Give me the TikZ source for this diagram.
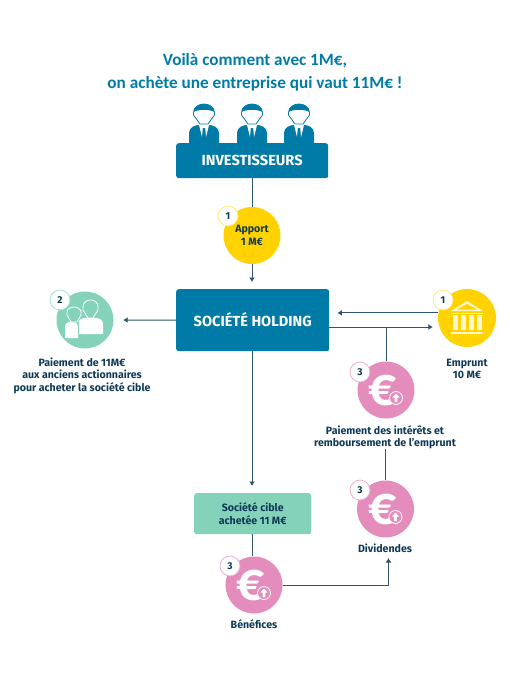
\documentclass[tikz,border=0pt]{standalone}
\usepackage{fontspec}
\setmainfont{Fira Sans}
\newfontfamily\titlefont{Carlito}
\usepackage{tikz}
\usetikzlibrary{
  calc,
  positioning,
  arrows.meta
}
\definecolor{petrol}{HTML}{007BA7}
\definecolor{ink}{HTML}{0F3A57}
\definecolor{wire}{HTML}{2F566E}
\definecolor{mint}{HTML}{84D2BA}
\definecolor{rose}{HTML}{E48CBC}
\definecolor{sun}{HTML}{FFD200}

\begin{document}
\begin{tikzpicture}[> ={Latex[length=4.5pt,width=6pt]},x=1pt,y=-1pt]
  \tikzset{
    bluebox/.style={
      fill=petrol,rounded corners=2.5pt,text=white,font=\bfseries\fontsize{14.6}{16}\selectfont,
      inner sep=0pt,anchor=north west
    },
    disc/.style={
      circle,minimum size=57pt,inner sep=0pt,align=center
    },
    badge/.style={
      circle,fill=white,draw=#1,line width=.8pt,minimum size=20pt,inner sep=0pt,
      text=ink,font=\bfseries\fontsize{10}{10}\selectfont
    },
    caption/.style={
      text=ink,align=center,inner sep=0pt,font=\bfseries\fontsize{10.6}{12.5}\selectfont
    },
    wireline/.style={
      draw=wire,line width=1pt
    },
    eurodisc/.style={
      disc,fill=rose,text=white,font=\titlefont\bfseries\fontsize{56}{56}\selectfont
    },
    pics/investor/.style={
      code={
        \fill[petrol] (-15,39) -- (-15,29) .. controls (-15,24) and (-10,21) .. (-5,21)
          -- (5,21) .. controls (10,21) and (15,24) .. (15,29) -- (15,39) -- cycle;
        \fill[white] (-5,21) -- (-2,33) -- (-1,25) -- (1,25) -- (2,33) -- (5,21) -- cycle;
        \fill[petrol] (-1.2,24) -- (1.2,24) -- (1.6,34) -- (-1.6,34) -- cycle;
        \draw[petrol,fill=white,line width=.8pt] (-10.5,9) -- (-10.5,11) -- (-4,20) -- (4,20) -- (10.5,11) -- (10.5,9)
          .. controls (10.5,3) and (5,0) .. (0,0) .. controls (-5,0) and (-10.5,3) .. (-10.5,9) -- cycle;
        \fill[petrol] (-10.5,8) .. controls (-10.5,3) and (-5,0) .. (0,0) .. controls (5,0) and (10.5,3) .. (10.5,8)
          .. controls (5,5) and (-5,5) .. (-10.5,8) -- cycle;
      }
    },
    pics/risemark/.style={
      code={
        \draw[white,fill=rose,line width=.8pt] (0,0) circle (6.5);
        \fill[white] (0,-4.5) -- (3.5,-.5) -- (1.3,-.5) -- (1.3,4) -- (-1.3,4) -- (-1.3,-.5) -- (-3.5,-.5) -- cycle;
      }
    },
    pics/bank/.style={
      code={
        \fill[white!80!sun] (0,-17) -- (16,-7) -- (-16,-7) -- cycle;
        \fill[sun] (0,-14) -- (10,-8.5) -- (-10,-8.5) -- cycle;
        \fill[white!80!sun] (-16,-5.5) rectangle (16,-4);
        \foreach \x in {-13,-5,3,11} {
          \fill[white!80!sun] (\x-1,-3) rectangle (\x+4,12);
        }
        \fill[white!80!sun] (-16,14) rectangle (16,16);
      }
    },
    pics/person/.style={
      code={
        \fill[white] (-#1,16) -- (-#1,6) .. controls (-#1,2) and (-#1*.7,0) .. (-#1*.4,0)
          -- (#1*.4,0) .. controls (#1*.7,0) and (#1,2) .. (#1,6) -- (#1,16) -- cycle;
      }
    },
  }
  \useasboundingbox (0,0) rectangle (510,680);

  % title
  \node[text=petrol,align=center,inner sep=0pt,font=\titlefont\bfseries\fontsize{17.2}{22.5}\selectfont] (title) at (255,72.5)
    {Voilà comment avec 1M€,\\on achète une entreprise qui vaut 11M€ !};

  % boxes
  \node[bluebox,minimum width=152pt,minimum height=35pt] (investisseurs) at (176,143) {INVESTISSEURS};
  \node[bluebox,minimum width=153pt,minimum height=62pt] (holding) at (176,289) {\raisebox{1.5pt}{SOCIÉTÉ HOLDING}};
  \node[fill=mint,rounded corners=2.5pt,text=ink,align=center,inner sep=0pt,anchor=north west,
    minimum width=117pt,minimum height=41pt,font=\bfseries\fontsize{10.6}{12.5}\selectfont] (cible) at (194,493)
    {Société cible\\achetée 11 M€};

  % discs
  \node[disc,fill=sun,text=ink,font=\bfseries\fontsize{10.6}{12.5}\selectfont] (apport) at (252,235.5) {Apport\\1 M€};
  \node[disc,fill=mint] (actionnaires) at (85,320) {};
  \node[disc,fill=sun,minimum size=58pt] (emprunt) at (467,318) {};
  \node[eurodisc] (paiement) at (386,390) {\hspace*{-6pt}€};
  \node[eurodisc] (dividendes) at (385.5,509) {\hspace*{-6pt}€};
  \node[eurodisc] (benefices) at (254,585) {\hspace*{-6pt}€};

  % captions
  \node[caption] (actionnaires text) at (82,375.5) {Paiement de 11M€\\aux anciens actionnaires\\pour acheter la société cible};
  \node[caption] (emprunt text) at (467,369) {Emprunt\\10 M€};
  \node[caption] (paiement text) at (385,437) {Paiement des intérêts et\\remboursement de l’emprunt};
  \node[caption] (dividendes text) at (385,548) {Dividendes};
  \node[caption] (benefices text) at (254,624) {Bénéfices};

  % badges
  \node[badge=sun!50] (badge apport) at (228,216) {1};
  \node[badge=mint!70] (badge actionnaires) at (60,300) {2};
  \node[badge=sun!50] (badge emprunt) at (443,300) {1};
  \node[badge=rose!70] (badge paiement) at (360,372) {3};
  \node[badge=rose!70] (badge dividendes) at (360,490) {3};
  \node[badge=rose!70] (badge benefices) at (230,566) {3};

  % connectors
  \coordinate (junction) at (386,327);
  \coordinate (dividendes in) at (388.5,558);
  \draw[wireline] (investisseurs.south -| apport.north) -- (apport.north);
  \draw[wireline,->,shorten >=7pt] (apport.south) -- (apport.south |- holding.north);
  \draw[wireline,->,shorten >=9.5pt] (holding.west) -- (actionnaires.east);
  \draw[wireline,->,shorten >=8pt] (emprunt.170) -- (holding.east |- emprunt.170);
  \draw[wireline,->,shorten >=5pt] (holding.east |- junction) -- (emprunt.west |- junction);
  \draw[wireline] (paiement.north) -- (junction);
  \draw[wireline] (dividendes.north) -- (dividendes.north |- paiement text.south);
  \draw[wireline,->,shorten >=7pt] (apport.south |- holding.south) -- (apport.south |- cible.north);
  \draw[wireline] (apport.south |- cible.south) -- (apport.south |- benefices.north);
  \draw[wireline,->] (benefices.east) -| (dividendes in);

  % icons
  \pic at (204,104) {investor};
  \pic at (252,104) {investor};
  \pic at (299,104) {investor};
  \pic at (467,318) {bank};
  \pic at (396,398) {risemark};
  \pic at (395.5,517) {risemark};
  \pic at (264,593) {risemark};
  \pic at (71.5,322) {person=6.5};
  \pic at (90.5,318) {person=12.5};
  \draw[white,fill=mint,line width=.8pt] (67,312) -- (67,315) -- (71,322) -- (77,322) -- (81,315) -- (81,312)
    .. controls (81,309) and (77,307) .. (74,307) .. controls (71,307) and (67,309) .. (67,312) -- cycle;
  \draw[white,fill=mint,line width=.8pt] (83,307) -- (83,310) -- (88,318) -- (93,318) -- (98,310) -- (98,307)
    .. controls (98,302) and (94,300) .. (90.5,300) .. controls (87,300) and (83,302) .. (83,307) -- cycle;
  \draw[mint,line width=.8pt] (78,322) -- (78,334);
\end{tikzpicture}
\end{document}
